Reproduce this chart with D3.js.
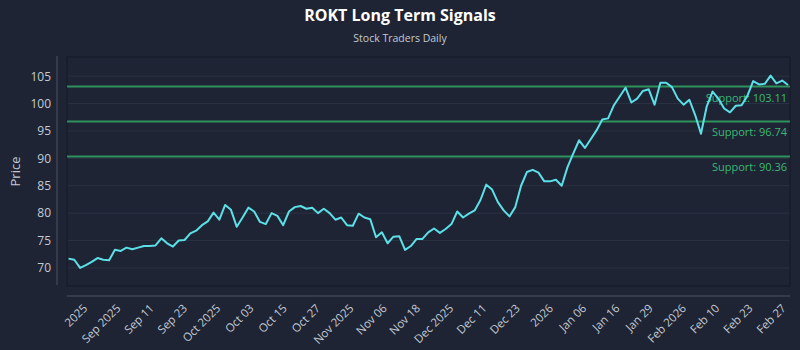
<!DOCTYPE html>
<html>
<head>
<meta charset="utf-8">
<script src="https://cdn.jsdelivr.net/npm/d3@7"></script>
<style>
  body { margin: 0; background: #1e2433; }
  svg { display: block; font-family: "Open Sans", sans-serif; }
</style>
</head>
<body>
<script>
// daily closes
const prices = [
  71.7, 71.5, 70.0, 70.5, 71.1, 71.8, 71.5, 71.4, 73.3, 73.1,
  73.7, 73.4, 73.7, 74.0, 74.0, 74.1, 75.4, 74.5, 73.9, 75.0,
  75.1, 76.3, 76.8, 77.8, 78.5, 80.1, 78.8, 81.5, 80.6, 77.5,
  79.2, 81.0, 80.3, 78.4, 78.0, 80.0, 79.5, 77.8, 80.3, 81.1,
  81.3, 80.8, 81.0, 80.0, 80.8, 80.0, 78.8, 79.2, 77.8, 77.7,
  79.9, 79.2, 78.9, 75.6, 76.5, 74.5, 75.7, 75.8, 73.3, 74.0,
  75.3, 75.3, 76.5, 77.2, 76.4, 77.1, 78.0, 80.3, 79.2, 79.9,
  80.5, 82.4, 85.2, 84.3, 82.0, 80.5, 79.4, 81.1, 85.0, 87.5,
  87.9, 87.4, 85.8, 85.8, 86.1, 85.0, 88.4, 90.9, 93.3, 91.9,
  93.5, 95.1, 97.1, 97.3, 99.7, 101.3, 102.9, 100.2, 100.9, 102.3,
  102.6, 99.8, 103.8, 103.8, 103.0, 100.9, 99.8, 100.7, 97.9, 94.5,
  99.5, 102.2, 100.9, 99.1, 98.4, 99.6, 99.7, 101.4, 104.1, 103.5,
  103.6, 105.1, 103.7, 104.2, 103.4
];

const supports = [103.11, 96.74, 90.36];

const tickLabels = [
  "2025", "Sep 2025", "Sep 11", "Sep 23", "Oct 2025", "Oct 03", "Oct 15",
  "Oct 27", "Nov 2025", "Nov 06", "Nov 18", "Dec 2025", "Dec 11", "Dec 23",
  "2026", "Jan 06", "Jan 16", "Jan 29", "Feb 2026", "Feb 10", "Feb 23", "Feb 27"
];

const yTicks = [70, 75, 80, 85, 90, 95, 100, 105];

const W = 800, H = 350;
const plot = { left: 67, right: 790, top: 57, bottom: 286 };

const svg = d3.select("body").append("svg")
  .attr("width", W)
  .attr("height", H);

svg.append("rect").attr("width", W).attr("height", H).attr("fill", "#1e2433");

const x = d3.scaleLinear()
  .domain([0, prices.length - 1])
  .range([68.5, 788]);

const y = d3.scaleLinear()
  .domain([66.7, 108.5])
  .range([plot.bottom, plot.top]);

// tick labels sit every few sessions, last one on the last close
const xt = d3.scalePoint()
  .domain(tickLabels)
  .range([x(3.3), x(prices.length - 1.3)]);

// title
svg.append("text")
  .attr("x", W / 2).attr("y", 21)
  .attr("text-anchor", "middle")
  .attr("font-size", 16).attr("font-weight", "bold")
  .attr("fill", "#ffffff")
  .text("ROKT Long Term Signals");

svg.append("text")
  .attr("x", W / 2).attr("y", 42)
  .attr("text-anchor", "middle")
  .attr("font-size", 10.5)
  .attr("fill", "#c3cad4")
  .text("Stock Traders Daily");

// grid
svg.append("g")
  .selectAll("line")
  .data(yTicks)
  .enter()
  .append("line")
  .attr("x1", plot.left).attr("x2", plot.right)
  .attr("y1", d => y(d)).attr("y2", d => y(d))
  .attr("stroke", "#2a3243").attr("stroke-width", 1);

// frame
svg.append("rect")
  .attr("x", plot.left).attr("y", plot.top)
  .attr("width", plot.right - plot.left)
  .attr("height", plot.bottom - plot.top)
  .attr("fill", "none")
  .attr("stroke", "#121826").attr("stroke-width", 1);

// y axis
const yAxis = svg.append("g")
  .attr("transform", "translate(57,0)")
  .call(d3.axisLeft(y).tickValues(yTicks).tickSize(0).tickPadding(6));
yAxis.select(".domain").attr("stroke", "#4a5262").attr("d", "M0," + (plot.top - 1) + "V" + (plot.bottom - 1));
yAxis.selectAll("text").attr("font-size", 12).attr("fill", "#c3cad4").attr("font-family", "Open Sans");

svg.append("text")
  .attr("transform", "translate(20," + ((plot.top + plot.bottom) / 2) + ") rotate(-90)")
  .attr("text-anchor", "middle")
  .attr("font-size", 13)
  .attr("fill", "#c3cad4")
  .text("Price");

// x axis
const xAxis = svg.append("g")
  .attr("transform", "translate(0,296)")
  .call(d3.axisBottom(xt).tickSize(0).tickPadding(0));
xAxis.select(".domain").attr("stroke", "#4a5262").attr("d", "M" + plot.left + ",0H" + plot.right);
xAxis.selectAll("text")
  .attr("font-size", 11.5).attr("fill", "#c3cad4").attr("font-family", "Open Sans")
  .attr("text-anchor", "end")
  .attr("dy", 0)
  .attr("transform", "translate(0,13) rotate(-45)");

// support levels
svg.append("g")
  .selectAll("line")
  .data(supports)
  .enter()
  .append("line")
  .attr("x1", plot.left).attr("x2", plot.right)
  .attr("y1", d => y(d)).attr("y2", d => y(d))
  .attr("stroke", "#2f9e63").attr("stroke-width", 2).attr("opacity", 0.9);

svg.append("g")
  .selectAll("text")
  .data(supports)
  .enter()
  .append("text")
  .attr("x", 787)
  .attr("y", d => y(d) + 15)
  .attr("text-anchor", "end")
  .attr("font-size", 11)
  .attr("fill", "#3bb873")
  .text(d => "Support: " + d.toFixed(2));

// price line
svg.append("path")
  .datum(prices)
  .attr("fill", "none")
  .attr("stroke", "#5ce0e8")
  .attr("stroke-width", 2)
  .attr("stroke-linejoin", "round")
  .attr("d", d3.line().x((d, i) => x(i)).y(d => y(d)));
</script>
</body>
</html>
